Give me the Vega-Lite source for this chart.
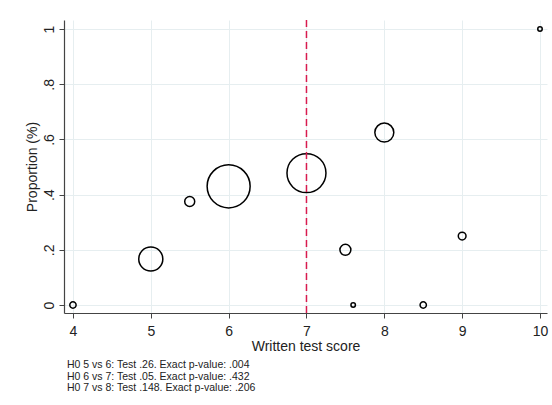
{
  "$schema": "https://vega.github.io/schema/vega-lite/v6.json",
  "width": 483,
  "height": 293,
  "autosize": {"type": "none"},
  "padding": {"left": 64, "top": 20, "right": 5, "bottom": 92},
  "background": "white",
  "config": {
    "font": "Liberation Sans",
    "view": {"stroke": null},
    "axis": {
      "gridColor": "#e6eef0",
      "gridWidth": 1,
      "domainColor": "#444444",
      "domainWidth": 1.2,
      "tickColor": "#444444",
      "tickSize": 5,
      "labelColor": "#222222",
      "titleColor": "#222222",
      "labelFontSize": 14,
      "titleFontSize": 14,
      "titleFontWeight": "normal"
    }
  },
  "title": {
    "text": ["H0 5 vs 6: Test .26. Exact p-value: .004", "H0 6 vs 7: Test .05. Exact p-value: .432", "H0 7 vs 8: Test .148. Exact p-value: .206"],
    "orient": "bottom",
    "anchor": "start",
    "frame": "group",
    "fontSize": 10.5,
    "fontWeight": "normal",
    "color": "#222222",
    "lineHeight": 11.5,
    "offset": 7,
    "dx": 3
  },
  "layer": [
    {
      "data": {"values": [
        {"score": 4, "proportion": 0, "n": 4},
        {"score": 5, "proportion": 0.167, "n": 58},
        {"score": 5.5, "proportion": 0.375, "n": 10},
        {"score": 6, "proportion": 0.43, "n": 185},
        {"score": 7, "proportion": 0.478, "n": 152},
        {"score": 7.5, "proportion": 0.2, "n": 12},
        {"score": 7.6, "proportion": 0, "n": 2},
        {"score": 8, "proportion": 0.625, "n": 36},
        {"score": 8.5, "proportion": 0, "n": 4},
        {"score": 9, "proportion": 0.25, "n": 6},
        {"score": 10, "proportion": 1, "n": 2}
      ]},
      "mark": {"type": "point", "shape": "circle", "filled": false, "stroke": "black", "strokeWidth": 1.5, "opacity": 1},
      "encoding": {
        "x": {
          "field": "score", "type": "quantitative",
          "scale": {"domain": [3.885, 10.09], "nice": false, "zero": false},
          "axis": {"values": [4, 5, 6, 7, 8, 9, 10], "title": "Written test score", "labelPadding": 6, "titlePadding": 1, "format": "d"}
        },
        "y": {
          "field": "proportion", "type": "quantitative",
          "scale": {"domain": [-0.029, 1.033], "nice": false, "zero": false},
          "axis": {
            "values": [0, 0.2, 0.4, 0.6, 0.8, 1],
            "title": "Proportion (%)",
            "labelAngle": -90,
            "labelAlign": "center",
            "labelBaseline": "bottom",
            "labelPadding": 3,
            "titlePadding": 3,
            "labelExpr": "datum.value == 0 ? '0' : datum.value == 1 ? '1' : replace(format(datum.value, '.1f'), '0.', '.')"
          }
        },
        "size": {"field": "n", "type": "quantitative", "scale": {"domain": [0, 200], "range": [0, 2000]}, "legend": null}
      }
    },
    {
      "data": {"values": [{"cutoff": 7}]},
      "mark": {"type": "rule", "color": "#d81b4f", "strokeWidth": 1.5, "strokeDash": [7, 4]},
      "encoding": {"x": {"field": "cutoff", "type": "quantitative"}}
    }
  ]
}
